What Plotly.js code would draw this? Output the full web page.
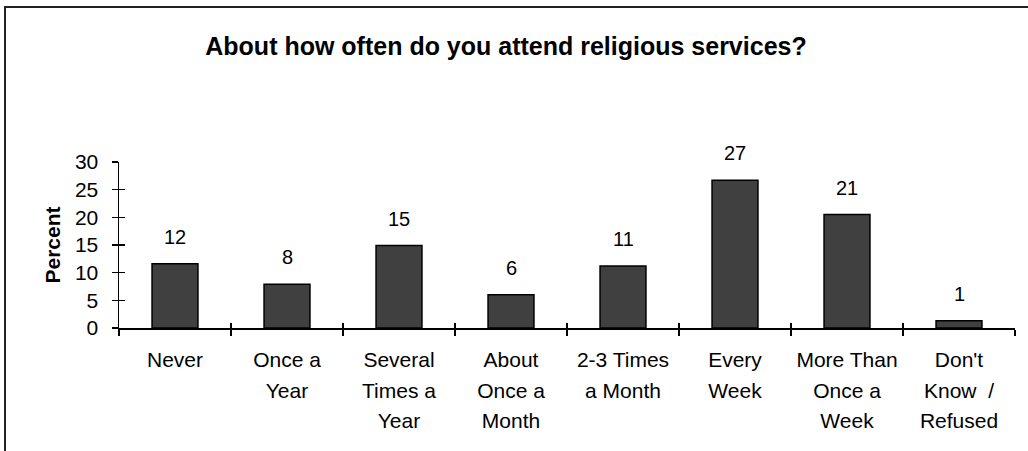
<!DOCTYPE html>
<html>
<head>
<meta charset="utf-8">
<script src="https://cdn.plot.ly/plotly-3.0.1.min.js"></script>
<style>
  html, body { margin: 0; padding: 0; background: #fff; overflow: hidden; }
  #wrap { position: relative; width: 1028px; height: 451px; }
  #chart { width: 1028px; height: 451px; }
  #frame { position: absolute; left: 4px; top: 6px; width: 1030px; height: 443px;
           border-left: 2px solid #222; border-top: 2px solid #222; border-bottom: 1px solid #c8c8c8;
           pointer-events: none; }
</style>
</head>
<body>
<div id="wrap">
  <div id="chart"></div>
  <div id="frame"></div>
</div>
<script>
const categories = ["Never", "Once a Year", "Several Times a Year", "About Once a Month",
                    "2-3 Times a Month", "Every Week", "More Than Once a Week", "Don't Know / Refused"];
// category tick labels, one array per printed line
const tickLine1 = ["Never", "Once a", "Several", "About", "2-3 Times", "Every", "More Than", "Don't"];
const tickLine2 = ["", "Year", "Times a", "Once a", "a Month", "Week", "Once a", "Know  /"];
const tickLine3 = ["", "", "Year", "Month", "", "", "Week", "Refused"];
const values = [11.6, 7.9, 14.9, 6.0, 11.2, 26.7, 20.5, 1.3];
const valueLabels = ["12", "8", "15", "6", "11", "27", "21", "1"];
const yTicks = [0, 5, 10, 15, 20, 25, 30];

const font = "Liberation Sans, Arial, sans-serif";
const idx = categories.map((c, i) => i);
const xRange = [-0.5, categories.length - 0.5];

const traces = [
  {
    type: "bar",
    x: categories,
    y: values,
    marker: { color: "#404040", line: { color: "#000", width: 1.5 } },
    hoverinfo: "skip",
    showlegend: false
  }
];

const annotations = categories.map((c, i) => ({
  x: c, y: values[i], xref: "x", yref: "y",
  text: valueLabels[i], showarrow: false,
  yanchor: "bottom", yshift: 14,
  font: { family: font, size: 20, color: "#000" }
}));

const baseStandoff = 12;
const lineStep = 30;
function labelAxis(ticktext, k) {
  return {
    overlaying: "x", anchor: "y", type: "linear", range: xRange,
    tickvals: idx, ticktext: ticktext,
    ticks: "outside", ticklen: 6, tickcolor: "rgba(0,0,0,0)",
    showline: false, showgrid: false, zeroline: false,
    ticklabelstandoff: baseStandoff + lineStep * k - 4,
    tickfont: { family: font, size: 21, color: "#000" }
  };
}

const layout = {
  width: 1028, height: 451,
  margin: { l: 119, r: 13, t: 162, b: 123, pad: 0 },
  paper_bgcolor: "#fff", plot_bgcolor: "#fff",
  font: { family: font, size: 20, color: "#000" },
  title: {
    text: "About how often do you attend religious services?",
    font: { family: font, size: 25, color: "#000", weight: "bold" },
    xref: "container", x: 506 / 1028, xanchor: "center",
    yref: "container", y: 1 - 46 / 451, yanchor: "middle"
  },
  bargap: 0.59,
  xaxis: {
    type: "category",
    categoryorder: "array", categoryarray: categories,
    tickvals: categories, ticktext: tickLine1,
    range: xRange,
    tickson: "boundaries",
    ticks: "outside", ticklen: 6, tickwidth: 1.5, tickcolor: "#000",
    showline: true, linecolor: "#000", linewidth: 1.5,
    showgrid: false, zeroline: false,
    ticklabelstandoff: baseStandoff,
    tickfont: { family: font, size: 21, color: "#000" }
  },
  xaxis2: {
    overlaying: "x", anchor: "y",
    type: "linear", range: xRange,
    tick0: -0.5, dtick: 1,
    ticks: "inside", ticklen: 5, tickwidth: 1.5, tickcolor: "#000",
    showticklabels: false, showline: false, showgrid: false, zeroline: false
  },
  xaxis3: labelAxis(tickLine2, 1),
  xaxis4: labelAxis(tickLine3, 2),
  yaxis: {
    range: [0, 30],
    tickvals: yTicks,
    ticks: "outside", ticklen: 6, tickwidth: 1.5, tickcolor: "#000",
    showline: true, linecolor: "#000", linewidth: 1.5,
    showgrid: false, zeroline: false,
    ticklabelstandoff: 9,
    tickfont: { family: font, size: 21, color: "#000" },
    title: { text: "Percent", font: { family: font, size: 21, color: "#000", weight: "bold" }, standoff: 8 }
  },
  yaxis2: {
    overlaying: "y", anchor: "x",
    range: [0, 30],
    tickvals: yTicks,
    ticks: "inside", ticklen: 6, tickwidth: 1.5, tickcolor: "#000",
    showticklabels: false, showline: false, showgrid: false, zeroline: false
  },
  annotations: annotations
};

// invisible helper traces so the overlay axes are drawn
["x2", "x3", "x4"].forEach(ax => traces.push({
  type: "scatter", x: [xRange[0]], y: [0], xaxis: ax, yaxis: "y2",
  mode: "markers", marker: { opacity: 0 }, hoverinfo: "skip", showlegend: false
}));

Plotly.newPlot("chart", traces, layout, { staticPlot: true, displayModeBar: false });
</script>
</body>
</html>
